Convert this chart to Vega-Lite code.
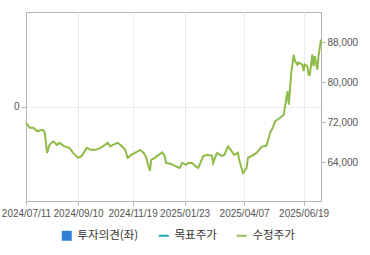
{
  "$schema": "https://vega.github.io/schema/vega-lite/v6.json",
  "autosize": "none",
  "width": 295,
  "height": 189,
  "padding": {"left": 26, "top": 12, "right": 49, "bottom": 54},
  "background": "white",
  "config": {
    "view": {"stroke": "#b4b4b4"},
    "axis": {"labelFont": "Liberation Sans", "labelFontSize": 10, "labelColor": "#555555", "domainColor": "#b4b4b4", "tickColor": "#b4b4b4", "gridColor": "#ebebeb", "title": null}
  },
  "layer": [
    {
      "data": {"values": [
        {"i": 0, "price": 71900}, {"i": 3, "price": 70900}, {"i": 6, "price": 70900}, {"i": 9, "price": 70200},
        {"i": 13, "price": 70500}, {"i": 15, "price": 70200}, {"i": 17, "price": 65900}, {"i": 19, "price": 67500},
        {"i": 22, "price": 68200}, {"i": 25, "price": 67500}, {"i": 27, "price": 67900}, {"i": 31, "price": 67200},
        {"i": 35, "price": 66900}, {"i": 38, "price": 65900}, {"i": 42, "price": 64900}, {"i": 45, "price": 65300},
        {"i": 49, "price": 66900}, {"i": 52, "price": 66500}, {"i": 56, "price": 66500}, {"i": 60, "price": 66900},
        {"i": 62, "price": 67200}, {"i": 66, "price": 67900}, {"i": 68, "price": 67200}, {"i": 70, "price": 67500},
        {"i": 74, "price": 67900}, {"i": 77, "price": 67300}, {"i": 80, "price": 66500}, {"i": 82, "price": 64900},
        {"i": 85, "price": 65500}, {"i": 88, "price": 65900}, {"i": 92, "price": 66500}, {"i": 95, "price": 65900},
        {"i": 97, "price": 64900}, {"i": 100, "price": 62300}, {"i": 101, "price": 64500}, {"i": 104, "price": 64900},
        {"i": 107, "price": 65500}, {"i": 110, "price": 66000}, {"i": 112, "price": 65200}, {"i": 113, "price": 63900},
        {"i": 117, "price": 63700}, {"i": 121, "price": 63200}, {"i": 124, "price": 62900}, {"i": 126, "price": 63900},
        {"i": 129, "price": 63500}, {"i": 131, "price": 63900}, {"i": 134, "price": 63900}, {"i": 137, "price": 63200},
        {"i": 139, "price": 62900}, {"i": 143, "price": 65200}, {"i": 146, "price": 65500}, {"i": 150, "price": 65300},
        {"i": 151, "price": 63900}, {"i": 154, "price": 65900}, {"i": 158, "price": 65300}, {"i": 160, "price": 65500},
        {"i": 163, "price": 67200}, {"i": 166, "price": 66200}, {"i": 168, "price": 65500}, {"i": 171, "price": 65900},
        {"i": 172, "price": 64500}, {"i": 175, "price": 61900}, {"i": 178, "price": 62900}, {"i": 179, "price": 64900},
        {"i": 182, "price": 65300}, {"i": 186, "price": 65900}, {"i": 190, "price": 67100}, {"i": 194, "price": 67300},
        {"i": 197, "price": 69900}, {"i": 199, "price": 70900}, {"i": 201, "price": 72200}, {"i": 205, "price": 72900},
        {"i": 208, "price": 73500}, {"i": 209, "price": 75200}, {"i": 211, "price": 78200}, {"i": 212, "price": 75500},
        {"i": 213, "price": 78500}, {"i": 214, "price": 81900}, {"i": 216, "price": 85500}, {"i": 217, "price": 84200},
        {"i": 219, "price": 83500}, {"i": 220, "price": 83900}, {"i": 223, "price": 83500}, {"i": 224, "price": 82200},
        {"i": 225, "price": 83500}, {"i": 227, "price": 83200}, {"i": 228, "price": 81500}, {"i": 229, "price": 81500},
        {"i": 231, "price": 85500}, {"i": 232, "price": 83200}, {"i": 233, "price": 85200}, {"i": 235, "price": 82500},
        {"i": 236, "price": 85200}, {"i": 238, "price": 88500}
      ]},
      "mark": {"type": "line", "color": "#8fbb48", "strokeWidth": 2},
      "encoding": {
        "x": {
          "field": "i", "type": "quantitative",
          "scale": {"domain": [0, 238], "nice": false, "zero": false},
          "axis": {
            "values": [0, 42, 86, 128, 176, 224],
            "labelExpr": "datum.value == 0 ? '2024/07/11' : datum.value == 42 ? '2024/09/10' : datum.value == 86 ? '2024/11/19' : datum.value == 128 ? '2025/01/23' : datum.value == 176 ? '2025/04/07' : '2025/06/19'",
            "grid": true, "tickSize": 4, "labelPadding": 3, "labelFlush": false, "labelOverlap": false
          }
        },
        "y": {
          "field": "price", "type": "quantitative",
          "scale": {"domain": [56300, 94000], "nice": false, "zero": false},
          "axis": {"orient": "right", "values": [64000, 72000, 80000, 88000], "format": ",.0f", "grid": false, "tickSize": 4, "labelPadding": 2}
        }
      }
    },
    {
      "data": {"values": [
        {"series": "투자의견(좌)"}, {"series": "목표주가"}, {"series": "수정주가"}
      ]},
      "mark": {"type": "point", "filled": true, "opacity": 1},
      "encoding": {
        "x": {"field": "i", "type": "quantitative"},
        "y": {
          "field": "op", "type": "quantitative",
          "scale": {"domain": [-1, 1], "nice": false, "zero": false},
          "axis": {"orient": "left", "values": [0], "format": "d", "grid": true, "tickSize": 5, "labelPadding": 2}
        },
        "color": {
          "field": "series", "type": "nominal",
          "scale": {"domain": ["투자의견(좌)", "목표주가", "수정주가"], "range": ["#2f7ed8", "#1fa9b8", "#9bbb59"]},
          "legend": {
            "title": null, "orient": "none", "legendX": 35, "legendY": 218, "direction": "horizontal", "columns": 3,
            "gridAlign": "none", "columnPadding": 15, "padding": 0, "symbolSize": 100, "labelOffset": 5,
            "labelFont": "Noto Sans CJK KR", "labelFontSize": 11.5, "labelColor": "#333333", "symbolOpacity": 1,
            "encode": {
              "symbols": {"update": {"stroke": {"scale": "color", "field": "value"}, "strokeWidth": {"signal": "datum.value == '투자의견(좌)' ? 0 : 2"}}}
            }
          }
        },
        "shape": {
          "field": "series", "type": "nominal",
          "scale": {"domain": ["투자의견(좌)", "목표주가", "수정주가"], "range": ["square", "stroke", "stroke"]}
        }
      }
    }
  ],
  "resolve": {"scale": {"y": "independent"}}
}
